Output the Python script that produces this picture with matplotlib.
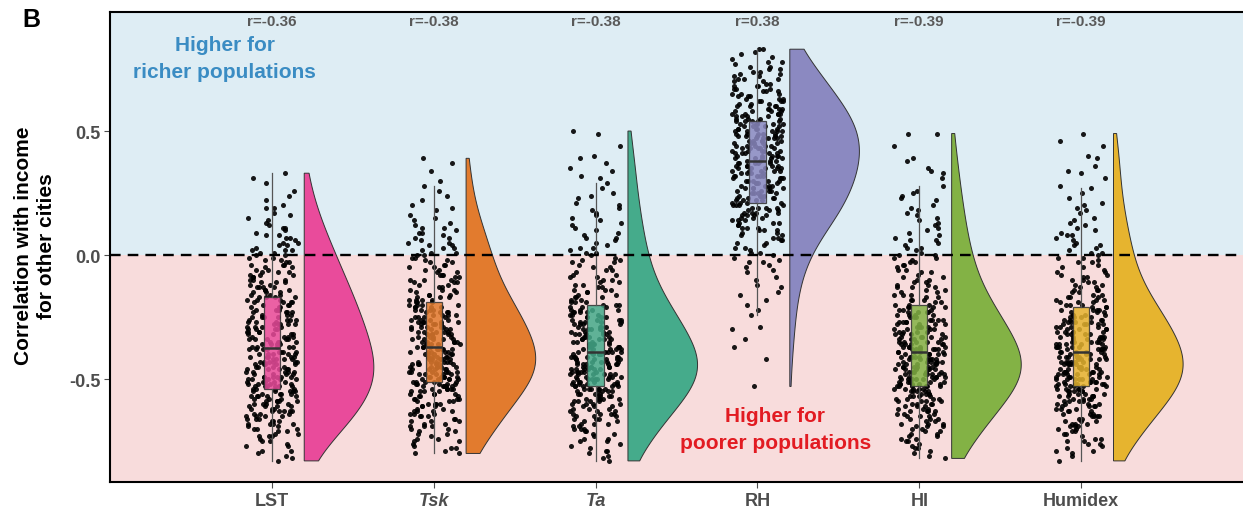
import numpy as np
import matplotlib.pyplot as plt

plt.rcParams['font.family'] = ['Liberation Sans', 'DejaVu Sans']

variables = ["LST", "Tsk", "Ta", "RH", "HI", "Humidex"]
r_labels = ["r=-0.36", "r=-0.38", "r=-0.38", "r=0.38", "r=-0.39", "r=-0.39"]
colors = ["#e94b9b", "#e27b2e", "#45ab8b", "#8b89c1", "#83b245", "#e6b42f"]

# correlation per city, given as number of cities at each 0.01 step
# starting from the lowest value of each variable
lst_low = -0.83
lst_counts = [1, 1, 1,
              1, 2, 0, 2, 1, 2, 1, 3, 2, 2, 3, 2, 4, 3, 3, 4, 3, 5, 3, 4,
              4, 5, 3, 5, 4, 5, 4, 6, 4, 5, 5, 6, 4, 5, 5, 4, 5, 6, 4, 5,
              5, 4, 4, 5, 4, 4, 5, 4, 4, 4, 4, 4, 5, 3, 4, 4, 3, 4, 4, 3,
              3, 4, 3, 4, 3, 3, 3, 4, 2, 3, 3, 2, 3, 3, 2, 2, 3, 2, 2, 2,
              2, 2, 3, 1, 2, 2, 1, 2, 2, 1, 1, 2, 1, 1, 1, 1, 1, 1, 0, 2,
              1, 0, 1, 0, 1, 0, 1, 0, 0, 1, 0, 1, 0, 1]

tsk_low = -0.80
tsk_counts = [2, 1, 2, 1, 1, 2, 2, 1, 2, 2, 2, 3, 2, 3, 2, 3, 3, 4, 2, 3,
              4, 3, 4, 3, 4, 4, 5, 5, 5, 5, 5, 6, 5, 6, 5, 6, 6, 6, 6, 6,
              5, 5, 6, 5, 5, 5, 5, 4, 5, 5, 4, 5, 4, 5, 4, 4, 4, 4, 4, 4,
              4, 3, 4, 3, 3, 2, 3, 2, 2, 3, 3, 2, 3, 2, 2, 2, 2, 2, 2, 2,
              2, 2, 1, 2, 2, 2, 1, 2, 1, 2, 1, 2, 1, 1, 1, 1, 1, 0, 1, 1,
              1, 0, 1, 0, 1, 0, 1, 0, 1, 0, 1, 0, 0, 0, 1, 0, 0, 1, 0, 1]

ta_low = -0.83
ta_counts = [1, 1, 1,
             1, 2, 1, 1, 1, 2, 2, 1, 2, 2, 3, 2, 3, 2, 3, 3, 4, 3, 3, 3,
             4, 4, 5, 4, 4, 5, 6, 5, 5, 5, 6, 5, 6, 6, 6, 6, 6, 5, 6, 6,
             5, 6, 5, 5, 5, 4, 5, 4, 5, 4, 4, 4, 4, 4, 4, 4, 3, 4, 4, 3,
             3, 3, 2, 3, 2, 2, 3, 2, 2, 2, 2, 2, 2, 1, 2, 2, 1, 2, 2, 1,
             1, 2, 1, 2, 1, 1, 1, 2, 1, 1, 1, 1, 1, 1, 1, 1, 1, 1, 1, 1,
             1, 1, 0, 1, 1, 1, 0, 1, 0, 1, 0, 1, 1, 0, 1, 1, 0, 1, 0, 1,
             1, 0, 0, 0, 1, 0, 0, 0, 0, 1, 1]

rh_low = -0.53
rh_counts = [1, 0, 0,
             0, 0, 0, 0, 0, 0, 0, 0, 1, 0, 0, 0, 0, 1, 0, 0, 1, 0, 0, 0,
             1, 1, 0, 0, 0, 0, 1, 0, 1, 0, 1, 0, 1, 0, 1, 1, 0, 1, 1, 0,
             1, 1, 0, 1, 1, 1, 1, 2, 1, 1, 1, 2, 1, 2, 1, 2, 2, 2, 2, 2,
             3, 3, 2, 3, 3, 3, 4, 4, 3, 4, 4, 4, 4, 4, 4, 4, 4, 5, 4, 4,
             5, 4, 5, 4, 5, 5, 5, 5, 4, 5, 5, 5, 5, 5, 5, 5, 5, 5, 5, 5,
             5, 5, 4, 5, 5, 4, 4, 5, 4, 4, 4, 3, 4, 3, 3, 3, 3, 3, 3, 2,
             2, 3, 2, 2, 2, 2, 2, 1, 2, 1, 1, 1, 1, 2]

hi_low = -0.82
hi_counts = [1, 1,
             1, 1, 2, 1, 1, 2, 2, 2, 2, 2, 2, 3, 3, 2, 3, 3, 3, 4, 3, 3,
             4, 4, 4, 4, 4, 5, 5, 6, 5, 5, 6, 6, 6, 5, 6, 6, 5, 6, 6, 6,
             5, 5, 6, 5, 5, 5, 4, 5, 4, 4, 4, 4, 4, 4, 4, 3, 4, 4, 3, 4,
             3, 2, 3, 2, 3, 2, 2, 3, 2, 2, 2, 2, 1, 2, 2, 1, 2, 2, 1, 2,
             2, 1, 1, 2, 1, 1, 2, 1, 1, 1, 1, 1, 1, 1, 1, 1, 1, 1, 1, 1,
             1, 0, 1, 1, 1, 1, 1, 0, 1, 0, 0, 1, 0, 1, 1, 1, 0, 0, 1, 1,
             0, 0, 0, 0, 1, 0, 0, 0, 0, 2]

humidex_low = -0.83
humidex_counts = [1, 0, 1,
                  1, 2, 1, 1, 2, 2, 2, 1, 2, 2, 2, 3, 3, 3, 2, 4, 3, 3, 3, 4,
                  4, 4, 4, 5, 4, 5, 5, 5, 6, 5, 6, 5, 6, 6, 5, 6, 6, 6, 5, 6,
                  5, 5, 5, 6, 5, 5, 4, 5, 4, 5, 4, 4, 5, 4, 4, 4, 4, 3, 4, 3,
                  3, 3, 3, 3, 2, 2, 3, 2, 2, 2, 2, 2, 2, 2, 1, 2, 1, 2, 1, 2,
                  1, 2, 1, 1, 2, 1, 1, 1, 2, 1, 1, 1, 1, 1, 1, 1, 0, 1, 1, 1,
                  1, 1, 0, 1, 0, 1, 0, 1, 1, 0, 0, 1, 0, 1, 1, 0, 1, 0, 0, 1,
                  1, 0, 0, 0, 1, 0, 1, 0, 0, 1]

lows = [lst_low, tsk_low, ta_low, rh_low, hi_low, humidex_low]
counts = [lst_counts, tsk_counts, ta_counts, rh_counts, hi_counts, humidex_counts]


def expand(low, cnt):
    steps = np.round(low + 0.01 * np.arange(len(cnt)), 2)
    return np.repeat(steps, cnt)


def nrd0(v):
    iqr = np.subtract(*np.percentile(v, [75, 25]))
    return 0.9 * min(np.std(v, ddof=1), iqr / 1.34) * len(v) ** -0.2


data = [expand(l, c) for l, c in zip(lows, counts)]
pos = np.arange(1, len(variables) + 1)

fig, ax = plt.subplots(figsize=(12.43, 5.10), dpi=100)
fig.subplots_adjust(left=0.0885, right=1.0, bottom=0.053, top=0.9745)

ymin, ymax = -0.915, 0.98
ax.axhspan(0, ymax, color="#deedf4", zorder=0, lw=0)
ax.axhspan(ymin, 0, color="#f8dcdc", zorder=0, lw=0)

rng = np.random.default_rng(7)  # horizontal jitter only
for p, v, col in zip(pos, data, colors):
    jx = p + rng.uniform(-0.16, 0.16, len(v))
    ax.scatter(jx, v, s=13, color="black", alpha=0.9, lw=0, zorder=2)

    # half violin on the right
    bw = 1.4 * nrd0(v)
    grid = np.linspace(v.min(), v.max(), 300)
    dens = np.exp(-0.5 * ((grid[:, None] - v[None, :]) / bw) ** 2).sum(axis=1)
    x0 = p + 0.2
    xs = x0 + dens / dens.max() * 0.43
    px = np.concatenate([[x0], xs, [x0]])
    py = np.concatenate([[grid[0]], grid, [grid[-1]]])
    ax.fill(px, py, facecolor=col, edgecolor="#333333", lw=0.7, zorder=3)

bp = ax.boxplot(data, positions=pos, widths=0.1, patch_artist=True,
                showfliers=False, showcaps=False, zorder=4,
                medianprops=dict(color="#333333", lw=1.8),
                whiskerprops=dict(color="#555555", lw=0.9),
                boxprops=dict(edgecolor="#333333", lw=0.9))
for box, col in zip(bp["boxes"], colors):
    box.set_facecolor(col)
    box.set_alpha(0.85)
    box.set_edgecolor("#333333")

ax.axhline(0, color="black", ls=(0, (4.5, 3)), lw=1.7, zorder=5)

for p, lab in zip(pos, r_labels):
    ax.text(p, 0.944, lab, ha="center", va="center", fontsize=11,
            fontweight="bold", color="#595959", zorder=6)

ax.text(0.71, 0.795, "Higher for\nricher populations", ha="center", va="center",
        fontsize=15, fontweight="bold", color="#3a8cc3", linespacing=1.55)
ax.text(4.11, -0.70, "Higher for\npoorer populations", ha="center", va="center",
        fontsize=15, fontweight="bold", color="#e21b22", linespacing=1.55)

ax.set_xlim(0, 7)
ax.set_ylim(ymin, ymax)
ax.set_xticks(pos)
ax.set_xticklabels(variables)
for t in ax.get_xticklabels():
    if t.get_text() in ("Tsk", "Ta"):
        t.set_fontstyle("italic")
ax.set_yticks([-0.5, 0.0, 0.5])
ax.set_yticklabels(["-0.5", "0.0", "0.5"])
ax.tick_params(labelsize=13, colors="#4d4d4d", length=4, width=0.8, pad=3)
for t in ax.get_xticklabels() + ax.get_yticklabels():
    t.set_fontweight("bold")

for s in ["left", "bottom", "top"]:
    ax.spines[s].set_linewidth(1.5)
    ax.spines[s].set_color("black")
ax.spines["right"].set_visible(False)

fig.text(0.028, 1 - 246 / 510, "Correlation with income\nfor other cities",
         rotation=90, ha="center", va="center", fontsize=15,
         fontweight="bold", linespacing=1.3)
fig.text(0.018, 1 - 20 / 510, "B", fontsize=18, fontweight="bold",
         ha="left", va="center")

fig.savefig("out.png", dpi=100)
